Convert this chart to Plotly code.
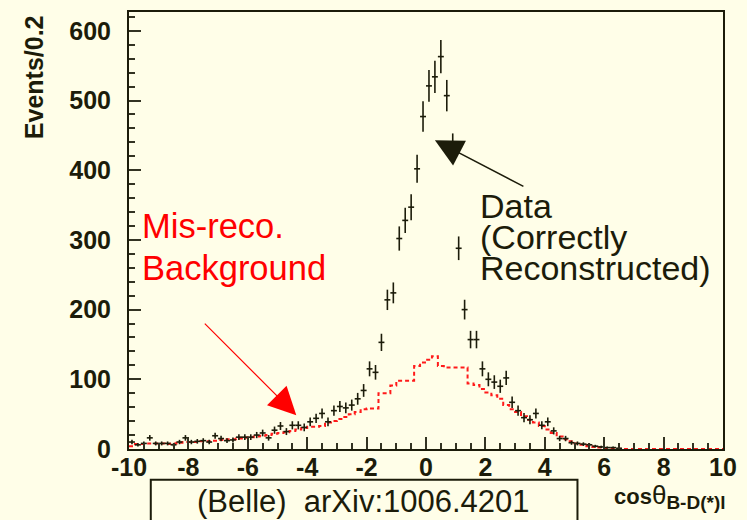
import numpy as np
import plotly.graph_objects as go

# Histogram binning: 100 bins of width 0.2 over [-10, 10]
bin_edges = np.linspace(-10.0, 10.0, 101)
bin_centers = 0.5 * (bin_edges[:-1] + bin_edges[1:])

# Events per bin, correctly reconstructed candidates (None = empty bin)
data_counts = [
    10, 6, 8, 16, 8, 8, 8, 6, 10, 16,
    10, 11, 12, 10, 19, 15, 12, 13, 17, 17,
    17, 20, 23, 16, 27, 33, 25, 34, 34, 31,
    39, 44, 51, 39, 55, 61, 59, 63, 72, 84,
    115, 110, 153, 214, 224, 302, 328, 347, 402, 477,
    521, 534, 563, 507, 432, 288, 200, 157, 157, 115,
    100, 96, 90, 102, 67, 55, 45, 42, 51, 34,
    39, 26, 15, 15, 9, 8, 7, 6, 4, 3,
    2, 2, 1, None, None, None, None, None, None, None,
    None, None, None, None, None, None, None, None, None, None,
]

# Mis-reconstructed background expectation per bin
misreco_bkg = [
    4, 7, 7, 8, 8, 8, 7, 8, 9, 10,
    10, 10, 11, 11, 12, 13, 14, 14, 15, 16,
    17, 18, 19, 20, 22, 23, 24, 26, 28, 30,
    32, 32, 33, 38, 40, 43, 46, 50, 53, 57,
    58, 58, 80, 80, 91, 98, 98, 98, 119, 124,
    128, 133, 119, 117, 117, 117, 117, 94, 92, 86,
    81, 77, 72, 63, 57, 53, 47, 42, 38, 33,
    28, 23, 18, 14, 11, 8, 6, 4, 3, 2,
    1, 1, 0.5, 0, 0, 0, 0, 0, 0, 0,
    0, 0, 0, 0, 0, 0, 0, 0, 0, 0,
]

x_tick_vals = [-10, -8, -6, -4, -2, 0, 2, 4, 6, 8, 10]
x_tick_text = ["-10", "-8", "-6", "-4", "-2", "0", "2", "4", "6", "8", "10"]
y_tick_vals = [0, 100, 200, 300, 400, 500, 600]
y_tick_text = ["0", "100", "200", "300", "400", "500", "600"]

INK = "#1c1c0a"
RED = "#ff1a1a"
CREAM = "#fffee8"
FONT = "Liberation Sans, Arial, sans-serif"

W, H = 747, 520
ML, MR, MT, MB = 129, 18, 10, 71
PW, PH = W - ML - MR, H - MT - MB


def px(xp):
    return (xp - ML) / PW


def py(yp):
    return (H - MB - yp) / PH


fig = go.Figure()

bkg = np.array(misreco_bkg, dtype=float)
fig.add_trace(go.Scatter(
    x=bin_edges, y=np.append(bkg, bkg[-1]),
    mode="lines",
    line=dict(shape="hv", color=RED, width=2, dash="4px,3px"),
    hoverinfo="skip",
))

counts = np.array(data_counts, dtype=float)
filled = ~np.isnan(counts)
fig.add_trace(go.Scatter(
    x=bin_centers[filled], y=counts[filled],
    mode="markers",
    marker=dict(size=1, color=INK),
    error_x=dict(type="constant", value=0.1, width=0, thickness=1.6, color=INK),
    error_y=dict(type="data", array=np.sqrt(counts[filled]), width=0,
                 thickness=1.6, color=INK),
))

axis_common = dict(
    showline=True, mirror=True, linecolor=INK, linewidth=2,
    showgrid=False, zeroline=False,
    ticks="inside", ticklen=12, tickwidth=1.5, tickcolor="#333322",
    tickfont=dict(family=FONT, size=25, color=INK, weight="bold"),
)

fig.update_xaxes(
    range=[-10, 10], tickmode="array", tickvals=x_tick_vals, ticktext=x_tick_text,
    ticklabelstandoff=-5,
    minor=dict(ticks="inside", ticklen=6, tickwidth=1.5, tickcolor="#333322",
               tickmode="linear", tick0=0, dtick=0.5),
    **axis_common,
)
fig.update_yaxes(
    range=[0, 627], tickmode="array", tickvals=y_tick_vals, ticktext=y_tick_text,
    ticklabelstandoff=11,
    minor=dict(ticks="inside", ticklen=6, tickwidth=1.5, tickcolor="#333322",
               tickmode="linear", tick0=0, dtick=20),
    **axis_common,
)

annotations = [
    # y-axis title
    dict(text="<b>Events/0.2</b>", x=px(32.5), y=py(75), xref="paper", yref="paper",
         textangle=-90, showarrow=False, xanchor="center", yanchor="middle",
         font=dict(family=FONT, size=25, color=INK)),
    # x-axis title
    dict(text="<b>cos</b><span style='font-size:26px'>θ</span>"
              "<sub><b><span style='font-size:19px'>B-D(*)l</span></b></sub>",
         x=px(734), y=py(497), xref="paper", yref="paper", showarrow=False,
         xanchor="right", yanchor="middle",
         font=dict(family=FONT, size=22, color=INK)),
    # data label
    dict(text="Data", x=px(482), y=py(205), xref="paper", yref="paper",
         showarrow=False, xanchor="left", yanchor="middle",
         font=dict(family=FONT, size=34, color=INK)),
    dict(text="(Correctly", x=px(482), y=py(236.5), xref="paper", yref="paper",
         showarrow=False, xanchor="left", yanchor="middle",
         font=dict(family=FONT, size=34, color=INK)),
    dict(text="Reconstructed)", x=px(482), y=py(267.5), xref="paper", yref="paper",
         showarrow=False, xanchor="left", yanchor="middle",
         font=dict(family=FONT, size=34, color=INK)),
    # background label
    dict(text="Mis-reco.", x=px(140), y=py(225), xref="paper", yref="paper",
         showarrow=False, xanchor="left", yanchor="middle",
         font=dict(family=FONT, size=34.5, color="#ff0000")),
    dict(text="Background", x=px(140), y=py(267), xref="paper", yref="paper",
         showarrow=False, xanchor="left", yanchor="middle",
         font=dict(family=FONT, size=34.5, color="#ff0000")),
    # reference box text
    dict(text="(Belle)\u00a0\u00a0arXiv:1006.4201", x=px(366), y=py(502),
         xref="paper", yref="paper", showarrow=False,
         xanchor="center", yanchor="middle",
         font=dict(family=FONT, size=31, color=INK)),
    # arrows
    dict(text="", x=0.3, y=443, xref="x", yref="y", ax=90, ay=47,
         showarrow=True, arrowhead=2, arrowwidth=1.5, arrowsize=3.7,
         arrowcolor=INK, standoff=0),
    dict(text="", x=-4.367, y=48.6, xref="x", yref="y", ax=-93, ay=-93,
         showarrow=True, arrowhead=2, arrowwidth=1.2, arrowsize=4.6,
         arrowcolor="#ff0000", standoff=0),
]

shapes = [
    dict(type="rect", xref="paper", yref="paper",
         x0=px(151), x1=px(582), y0=py(535), y1=py(480),
         line=dict(color=INK, width=2), fillcolor="rgba(0,0,0,0)"),
]

fig.update_layout(
    width=W, height=H, autosize=False,
    margin=dict(l=ML, r=MR, t=MT, b=MB),
    paper_bgcolor=CREAM, plot_bgcolor=CREAM,
    showlegend=False,
    annotations=annotations,
    shapes=shapes,
    font=dict(family=FONT, color=INK),
)

fig.write_html("out.html")
